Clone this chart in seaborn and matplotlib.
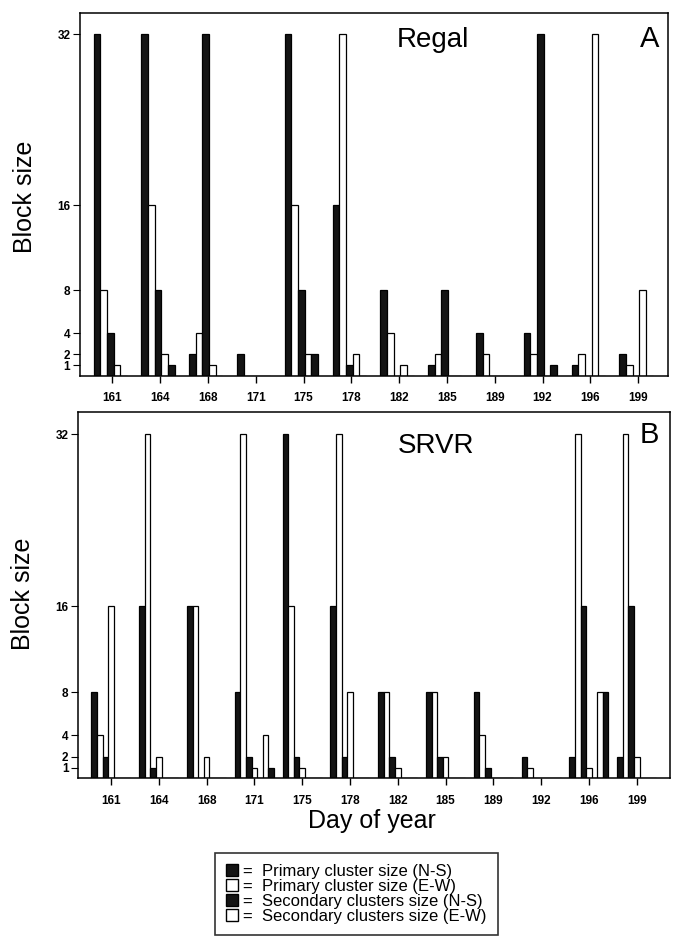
import numpy as np
import pandas as pd
import matplotlib
matplotlib.use('Agg')
import matplotlib.pyplot as plt
import seaborn as sns
from matplotlib.patches import Patch

days = ['161', '164', '168', '171', '175', '178', '182', '185', '189', '192', '196', '199']
yticks = [1, 2, 4, 8, 16, 32]

# Panel A: Regal
regal_prim_ns = [32, 32, 2, 2, 32, 16, 8, 1, 4, 4, 1, 2]
regal_prim_ew = [8, 16, 4, 0, 16, 32, 4, 2, 2, 2, 2, 1]
regal_sec_ns = [4, 8, 32, 0, 8, 1, 0, 8, 0, 32, 0, 0]
regal_sec_ew = [1, 2, 1, 0, 2, 2, 1, 0, 0, 0, 32, 8]
regal_sec2_ns = [0, 1, 0, 0, 2, 0, 0, 0, 0, 1, 0, 0]

# Panel B: SRVR
srvr_prim_ns = [8, 16, 16, 8, 32, 16, 8, 8, 8, 2, 2, 2]
srvr_prim_ew = [4, 32, 16, 32, 16, 32, 8, 8, 4, 1, 32, 32]
srvr_sec_ns = [2, 1, 0, 2, 2, 2, 2, 2, 1, 0, 16, 16]
srvr_sec_ew = [16, 2, 2, 1, 1, 8, 1, 2, 0, 0, 1, 2]
srvr_sec2_ns = [0, 0, 0, 0, 0, 0, 0, 0, 0, 0, 0, 0]
srvr_sec2_ew = [0, 0, 0, 4, 0, 0, 0, 0, 0, 0, 8, 0]
srvr_sec3_ns = [0, 0, 0, 1, 0, 0, 0, 0, 0, 0, 8, 0]

legend_labels = ['=  Primary cluster size (N-S)', '=  Primary cluster size (E-W)',
                 '=  Secondary clusters size (N-S)', '=  Secondary clusters size (E-W)']

sns.set_style('ticks')
plt.rcParams['font.family'] = ['Liberation Sans', 'DejaVu Sans']
for key in ['text.color', 'axes.labelcolor', 'xtick.color', 'ytick.color', 'axes.edgecolor']:
    plt.rcParams[key] = 'black'

BLACK = '#141414'
fill = {'ns': BLACK, 'ew': 'white'}


def build(series):
    rows = []
    for name, vals in series.items():
        for d, v in zip(days, vals):
            rows.append({'day': d, 'series': name, 'size': v})
    return pd.DataFrame(rows)


seriesA = {'prim_ns': regal_prim_ns, 'prim_ew': regal_prim_ew, 'sec_ns': regal_sec_ns,
           'sec_ew': regal_sec_ew, 'sec2_ns': regal_sec2_ns}
seriesB = {'prim_ns': srvr_prim_ns, 'prim_ew': srvr_prim_ew, 'sec_ns': srvr_sec_ns,
           'sec_ew': srvr_sec_ew, 'sec2_ns': srvr_sec2_ns, 'sec2_ew': srvr_sec2_ew,
           'sec3_ns': srvr_sec3_ns}

fig = plt.figure(figsize=(6.75, 9.48), dpi=100)
axA = fig.add_axes([0.11852, 0.60369, 0.87111, 0.38228])
axB = fig.add_axes([0.1160, 0.17901, 0.87659, 0.38608])

panels = [
    (axA, seriesA, 0.6975, 0.044, (-0.632, 11.669), 33.97, 'Regal', 'A',
     (6.75, 30.81), (11.29, 30.81)),
    (axB, seriesB, 0.816, 0.0, (-0.684, 11.695), 34.05, 'SRVR', 'B',
     (6.80, 30.26), (11.255, 31.19)),
]

for ax, series, width, toff, xlim, ytop, title, letter, tpos, lpos in panels:
    df = build(series)
    names = list(series.keys())
    pal = {n: fill[n.split('_')[1]] for n in names}
    sns.barplot(data=df, x='day', y='size', hue='series', order=days, hue_order=names,
                palette=pal, width=width, dodge=True, errorbar=None, saturation=1,
                edgecolor='black', linewidth=0.9, legend=False, ax=ax)
    ax.set_xlim(*xlim)
    ax.set_ylim(0, ytop)
    ax.set_xticks(np.arange(len(days)) + toff)
    ax.set_xticklabels(days, fontsize=8.5, fontweight='bold')
    ax.set_yticks(yticks)
    ax.set_yticklabels([str(t) for t in yticks], fontsize=8.5, fontweight='bold')
    ax.tick_params(axis='x', direction='out', length=5, width=1.0, pad=7, colors='black')
    ax.tick_params(axis='y', direction='out', length=5, width=0.8, pad=2, colors='black')
    ax.set_xlabel('')
    ax.set_ylabel('')
    for s in ax.spines.values():
        s.set_visible(True)
        s.set_linewidth(1.1)
        s.set_color('black')
    ax.text(tpos[0], tpos[1], title, ha='center', va='baseline', fontsize=20, color='black')
    ax.text(lpos[0], lpos[1], letter, ha='center', va='baseline', fontsize=21, color='black')

fig.text(25 / 675, 1 - 197 / 948, 'Block size', rotation=90, ha='center', va='center',
         fontsize=18, color='black')
fig.text(23 / 675, 1 - 594 / 948, 'Block size', rotation=90, ha='center', va='center',
         fontsize=18, color='black')
fig.text(372 / 675, 1 - 828 / 948, 'Day of year', ha='center', va='baseline', fontsize=18,
         color='black')

handles = [Patch(facecolor=BLACK, edgecolor='black'), Patch(facecolor='white', edgecolor='black'),
           Patch(facecolor=BLACK, edgecolor='black'), Patch(facecolor='white', edgecolor='black')]
leg = fig.legend(handles, legend_labels, loc='upper left',
                 bbox_to_anchor=(215 / 675, 1 - 853 / 948), fontsize=12,
                 handlelength=0.7, handleheight=0.7, handletextpad=0.35,
                 labelspacing=0.0, borderpad=0.65, borderaxespad=0,
                 fancybox=False, frameon=True)
leg.get_frame().set_edgecolor('black')
leg.get_frame().set_linewidth(1.2)
for t in leg.get_texts():
    t.set_color('black')

fig.savefig('out.png', dpi=100)
